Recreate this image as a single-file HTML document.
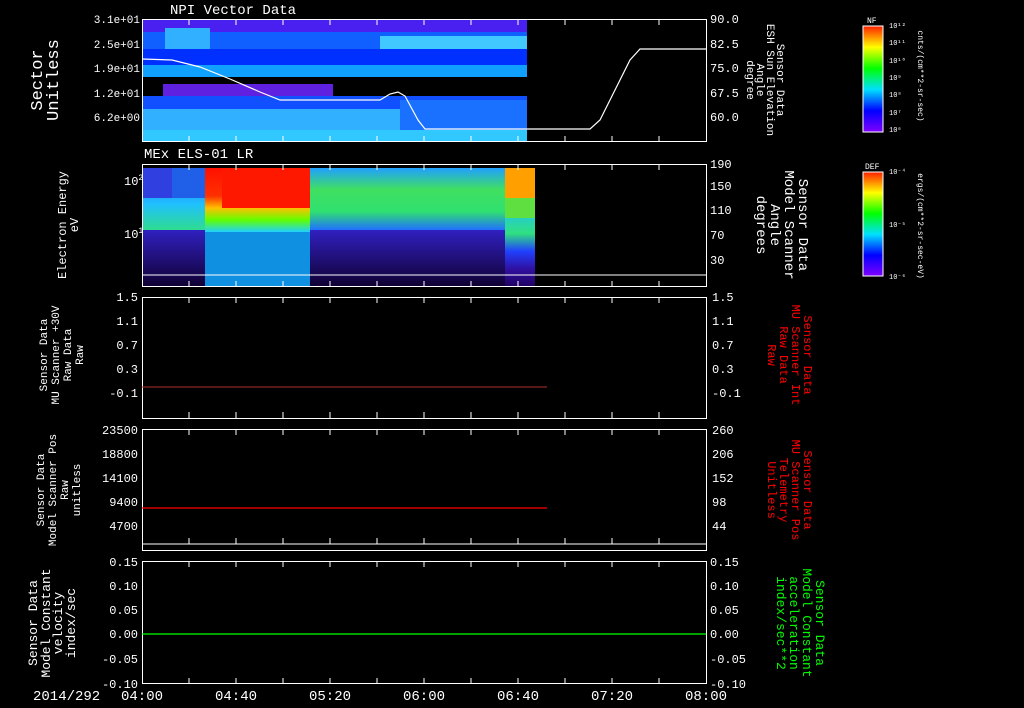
<!DOCTYPE html>
<html><head><style>
body{margin:0;background:#000;}
svg{display:block;font-family:"Liberation Mono",monospace;}
text{fill:#fff;}
</style></head><body>
<svg width="1024" height="708" viewBox="0 0 1024 708">
<defs>
<linearGradient id="rb" x1="0" y1="1" x2="0" y2="0">
<stop offset="0" stop-color="#8000ff"/><stop offset="0.2" stop-color="#0000ff"/><stop offset="0.4" stop-color="#00e0ff"/><stop offset="0.6" stop-color="#00ff00"/><stop offset="0.8" stop-color="#ffff00"/><stop offset="1" stop-color="#ff2000"/>
</linearGradient>
<linearGradient id="sp" x1="0" y1="0" x2="0" y2="1">
<stop offset="0" stop-color="#2050ff"/><stop offset="0.3" stop-color="#20c0ff"/><stop offset="0.55" stop-color="#30e080"/><stop offset="0.7" stop-color="#2040ff"/><stop offset="0.85" stop-color="#3010a0"/><stop offset="1" stop-color="#200060"/>
</linearGradient>
<linearGradient id="hot" x1="0" y1="0" x2="0" y2="1">
<stop offset="0" stop-color="#ff1000"/><stop offset="0.35" stop-color="#ff3000"/><stop offset="0.5" stop-color="#ffc000"/><stop offset="0.65" stop-color="#60ff00"/><stop offset="0.8" stop-color="#20d0ff"/><stop offset="1" stop-color="#2080ff"/>
</linearGradient>
<linearGradient id="mid" x1="0" y1="0" x2="0" y2="1">
<stop offset="0" stop-color="#20a0ff"/><stop offset="0.35" stop-color="#40e060"/><stop offset="0.7" stop-color="#30e070"/><stop offset="1" stop-color="#2070ff"/>
</linearGradient>
<linearGradient id="low" x1="0" y1="0" x2="0" y2="1">
<stop offset="0" stop-color="#3020c0"/><stop offset="1" stop-color="#100030"/>
</linearGradient>
</defs>
<!-- Panel 1 -->
<text x="170" y="14" font-size="14">NPI Vector Data</text>
<rect x="142" y="19" width="385" height="13" fill="#4a20f0"/>
<rect x="142" y="32" width="385" height="17" fill="#1060ff"/>
<rect x="165" y="28" width="45" height="22" fill="#30b0ff"/>
<rect x="380" y="36" width="147" height="13" fill="#40c8ff"/>
<rect x="142" y="49" width="385" height="16" fill="#0030ff"/>
<rect x="142" y="65" width="385" height="12" fill="#10a0ff"/>
<rect x="163" y="84" width="170" height="12" fill="#6020e0"/>
<rect x="142" y="96" width="385" height="13" fill="#1050ff"/>
<rect x="142" y="109" width="385" height="21" fill="#30b0ff"/>
<rect x="400" y="100" width="127" height="30" fill="#1a70ff"/>
<rect x="142" y="130" width="385" height="12" fill="#30c8ff"/>
<polyline fill="none" stroke="#fff" stroke-width="1.2" points="142,59 172,60 200,67 230,79 260,92 280,100 380,100 390,94 398,92 405,96 418,120 425,129 590,129 600,120 615,90 630,60 640,49 706,49"/>
<rect x="142.5" y="19.5" width="564" height="122" fill="none" stroke="#fff"/>
<text x="140" y="23" font-size="11" text-anchor="end">3.1e+01</text>
<text x="140" y="48" font-size="11" text-anchor="end">2.5e+01</text>
<text x="140" y="72" font-size="11" text-anchor="end">1.9e+01</text>
<text x="140" y="97" font-size="11" text-anchor="end">1.2e+01</text>
<text x="140" y="121" font-size="11" text-anchor="end">6.2e+00</text>
<text transform="translate(42,80) rotate(-90)" font-size="17" text-anchor="middle">Sector</text>
<text transform="translate(58,80) rotate(-90)" font-size="17" text-anchor="middle">Unitless</text>
<text x="710" y="23" font-size="12">90.0</text>
<text x="710" y="48" font-size="12">82.5</text>
<text x="710" y="72" font-size="12">75.0</text>
<text x="710" y="97" font-size="12">67.5</text>
<text x="710" y="121" font-size="12">60.0</text>
<text transform="translate(777,80) rotate(90)" font-size="11" text-anchor="middle">Sensor Data</text>
<text transform="translate(767,80) rotate(90)" font-size="11" text-anchor="middle">ESH Sun Elevation</text>
<text transform="translate(757,80) rotate(90)" font-size="11" text-anchor="middle">Angle</text>
<text transform="translate(747,80) rotate(90)" font-size="11" text-anchor="middle">degree</text>
<!-- Panel 2 -->
<text x="144" y="158" font-size="14">MEx ELS-01 LR</text>
<rect x="142" y="168" width="393" height="119" fill="url(#sp)"/>
<rect x="142" y="168" width="30" height="30" fill="#3040e0"/>
<rect x="172" y="168" width="35" height="30" fill="#2060e8"/>
<rect x="142" y="230" width="65" height="57" fill="url(#low)"/>
<rect x="205" y="168" width="105" height="80" fill="url(#hot)"/>
<rect x="222" y="168" width="92" height="40" fill="#ff1800"/>
<rect x="205" y="232" width="105" height="55" fill="#1090e0"/>
<rect x="310" y="230" width="195" height="57" fill="url(#low)"/>
<rect x="310" y="168" width="195" height="62" fill="url(#mid)"/>
<rect x="505" y="168" width="30" height="30" fill="#ffa000"/>
<rect x="505" y="198" width="30" height="20" fill="#60e040"/>
<line x1="142" y1="275" x2="706" y2="275" stroke="#fff"/>
<rect x="142.5" y="164.5" width="564" height="122" fill="none" stroke="#fff"/>
<text x="124" y="185" font-size="12">10<tspan dy="-5" font-size="8">2</tspan></text>
<text x="124" y="238" font-size="12">10<tspan dy="-5" font-size="8">1</tspan></text>
<text transform="translate(66,225) rotate(-90)" font-size="12" text-anchor="middle">Electron Energy</text>
<text transform="translate(78,225) rotate(-90)" font-size="12" text-anchor="middle">eV</text>
<text x="710" y="168" font-size="12">190</text>
<text x="710" y="190" font-size="12">150</text>
<text x="710" y="214" font-size="12">110</text>
<text x="710" y="239" font-size="12">70</text>
<text x="710" y="264" font-size="12">30</text>
<text transform="translate(799,225) rotate(90)" font-size="14" text-anchor="middle">Sensor Data</text>
<text transform="translate(785,225) rotate(90)" font-size="14" text-anchor="middle">Model Scanner</text>
<text transform="translate(771,225) rotate(90)" font-size="14" text-anchor="middle">Angle</text>
<text transform="translate(757,225) rotate(90)" font-size="14" text-anchor="middle">degrees</text>
<!-- Panel 3 -->
<rect x="142.5" y="297.5" width="564" height="121" fill="none" stroke="#fff"/>
<line x1="142" y1="387" x2="547" y2="387" stroke="#b03030"/>
<g font-size="12" text-anchor="end"><text x="138" y="301">1.5</text><text x="138" y="325">1.1</text><text x="138" y="349">0.7</text><text x="138" y="373">0.3</text><text x="138" y="397">-0.1</text></g>
<g font-size="12"><text x="712" y="301">1.5</text><text x="712" y="325">1.1</text><text x="712" y="349">0.7</text><text x="712" y="373">0.3</text><text x="712" y="397">-0.1</text></g>
<g font-size="11" text-anchor="middle">
<text transform="translate(47,355) rotate(-90)">Sensor Data</text>
<text transform="translate(59,355) rotate(-90)">MU Scanner +30V</text>
<text transform="translate(71,355) rotate(-90)">Raw Data</text>
<text transform="translate(83,355) rotate(-90)">Raw</text></g>
<g font-size="12" text-anchor="middle">
<text transform="translate(804,355) rotate(90)" style="fill:#f00">Sensor Data</text>
<text transform="translate(792,355) rotate(90)" style="fill:#f00">MU Scanner Int</text>
<text transform="translate(780,355) rotate(90)" style="fill:#f00">Raw Data</text>
<text transform="translate(768,355) rotate(90)" style="fill:#f00">Raw</text></g>
<!-- Panel 4 -->
<rect x="142.5" y="429.5" width="564" height="121" fill="none" stroke="#fff"/>
<line x1="142" y1="544" x2="706" y2="544" stroke="#fff"/>
<line x1="142" y1="508" x2="547" y2="508" stroke="#f00" stroke-width="1.2"/>
<g font-size="12" text-anchor="end"><text x="138" y="434">23500</text><text x="138" y="458">18800</text><text x="138" y="482">14100</text><text x="138" y="506">9400</text><text x="138" y="530">4700</text></g>
<g font-size="12"><text x="712" y="434">260</text><text x="712" y="458">206</text><text x="712" y="482">152</text><text x="712" y="506">98</text><text x="712" y="530">44</text></g>
<g font-size="11" text-anchor="middle">
<text transform="translate(44,490) rotate(-90)">Sensor Data</text>
<text transform="translate(56,490) rotate(-90)">Model Scanner Pos</text>
<text transform="translate(68,490) rotate(-90)">Raw</text>
<text transform="translate(80,490) rotate(-90)">unitless</text></g>
<g font-size="12" text-anchor="middle">
<text transform="translate(804,490) rotate(90)" style="fill:#f00">Sensor Data</text>
<text transform="translate(792,490) rotate(90)" style="fill:#f00">MU Scanner Pos</text>
<text transform="translate(780,490) rotate(90)" style="fill:#f00">Telemetry</text>
<text transform="translate(768,490) rotate(90)" style="fill:#f00">Unitless</text></g>
<!-- Panel 5 -->
<rect x="142.5" y="561.5" width="564" height="122" fill="none" stroke="#fff"/>
<line x1="142" y1="634" x2="706" y2="634" stroke="#0f0" stroke-width="1.2"/>
<g font-size="12" text-anchor="end"><text x="138" y="566">0.15</text><text x="138" y="590">0.10</text><text x="138" y="614">0.05</text><text x="138" y="638">0.00</text><text x="138" y="663">-0.05</text><text x="138" y="688">-0.10</text></g>
<g font-size="12"><text x="710" y="566">0.15</text><text x="710" y="590">0.10</text><text x="710" y="614">0.05</text><text x="710" y="638">0.00</text><text x="710" y="663">-0.05</text><text x="710" y="688">-0.10</text></g>
<g font-size="13" text-anchor="middle">
<text transform="translate(37,623) rotate(-90)">Sensor Data</text>
<text transform="translate(50,623) rotate(-90)">Model Constant</text>
<text transform="translate(62,623) rotate(-90)">velocity</text>
<text transform="translate(75,623) rotate(-90)">index/sec</text></g>
<g font-size="13" text-anchor="middle">
<text transform="translate(816,623) rotate(90)" style="fill:#0f0">Sensor Data</text>
<text transform="translate(803,623) rotate(90)" style="fill:#0f0">Model Constant</text>
<text transform="translate(790,623) rotate(90)" style="fill:#0f0">acceleration</text>
<text transform="translate(777,623) rotate(90)" style="fill:#0f0">index/sec**2</text></g>
<!-- x ticks -->
<g stroke="#fff">
<path d="M189,19v6M236,19v6M283,19v6M330,19v6M377,19v6M424,19v6M471,19v6M518,19v6M565,19v6M612,19v6M659,19v6 M189,142v-6M236,142v-6M283,142v-6M330,142v-6M377,142v-6M424,142v-6M471,142v-6M518,142v-6M565,142v-6M612,142v-6M659,142v-6"/>
<path d="M189,164v6M236,164v6M283,164v6M330,164v6M377,164v6M424,164v6M471,164v6M518,164v6M565,164v6M612,164v6M659,164v6 M189,287v-6M236,287v-6M283,287v-6M330,287v-6M377,287v-6M424,287v-6M471,287v-6M518,287v-6M565,287v-6M612,287v-6M659,287v-6"/>
<path d="M189,297v6M236,297v6M283,297v6M330,297v6M377,297v6M424,297v6M471,297v6M518,297v6M565,297v6M612,297v6M659,297v6 M189,418v-6M236,418v-6M283,418v-6M330,418v-6M377,418v-6M424,418v-6M471,418v-6M518,418v-6M565,418v-6M612,418v-6M659,418v-6"/>
<path d="M189,429v6M236,429v6M283,429v6M330,429v6M377,429v6M424,429v6M471,429v6M518,429v6M565,429v6M612,429v6M659,429v6 M189,544v-6M236,544v-6M283,544v-6M330,544v-6M377,544v-6M424,544v-6M471,544v-6M518,544v-6M565,544v-6M612,544v-6M659,544v-6"/>
<path d="M189,561v6M236,561v6M283,561v6M330,561v6M377,561v6M424,561v6M471,561v6M518,561v6M565,561v6M612,561v6M659,561v6 M189,684v-6M236,684v-6M283,684v-6M330,684v-6M377,684v-6M424,684v-6M471,684v-6M518,684v-6M565,684v-6M612,684v-6M659,684v-6"/>
</g>
<g font-size="14" text-anchor="middle"><text x="142" y="700">04:00</text><text x="236" y="700">04:40</text><text x="330" y="700">05:20</text><text x="424" y="700">06:00</text><text x="518" y="700">06:40</text><text x="612" y="700">07:20</text><text x="706" y="700">08:00</text></g>
<text x="33" y="700" font-size="14">2014/292</text>
<!-- colorbars -->
<rect x="863" y="26" width="20" height="106" fill="url(#rb)" stroke="#fff"/>
<text x="867" y="23" font-size="8">NF</text>
<g font-size="7"><text x="889" y="28">10¹²</text><text x="889" y="45">10¹¹</text><text x="889" y="63">10¹⁰</text><text x="889" y="80">10⁹</text><text x="889" y="97">10⁸</text><text x="889" y="115">10⁷</text><text x="889" y="132">10⁶</text></g>
<text transform="translate(918,76) rotate(90)" font-size="8" text-anchor="middle">cnts/(cm**2-sr-sec)</text>
<rect x="863" y="172" width="20" height="104" fill="url(#rb)" stroke="#fff"/>
<text x="865" y="169" font-size="8">DEF</text>
<g font-size="7"><text x="889" y="174">10⁻⁴</text><text x="889" y="227">10⁻⁵</text><text x="889" y="279">10⁻⁶</text></g>
<text transform="translate(918,226) rotate(90)" font-size="8" text-anchor="middle">ergs/(cm**2-sr-sec-eV)</text>
</svg>
</body></html>
